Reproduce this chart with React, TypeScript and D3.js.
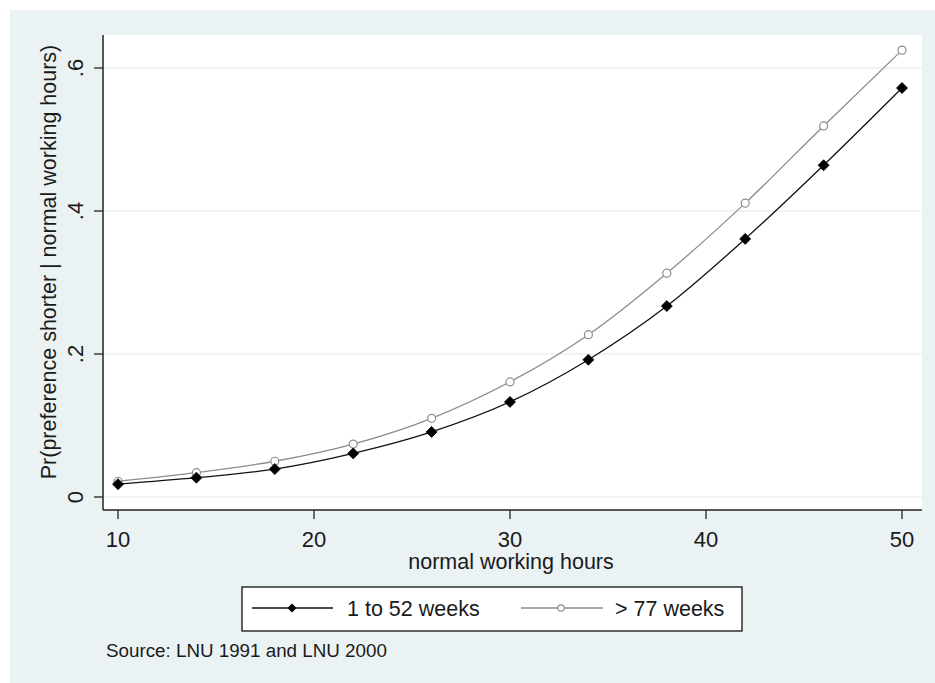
import React from 'react';
import * as d3 from 'd3';

// hours on the x axis
const hours = [10, 14, 18, 22, 26, 30, 34, 38, 42, 46, 50];
// predicted probabilities
const shortSpell = [0.018, 0.027, 0.039, 0.061, 0.091, 0.133, 0.192, 0.267, 0.361, 0.464, 0.572];
const longSpell = [0.022, 0.034, 0.050, 0.074, 0.110, 0.161, 0.227, 0.313, 0.411, 0.519, 0.625];
const xTicks = [10, 20, 30, 40, 50];
const yTicks = [0, 0.2, 0.4, 0.6];
const yTickLabels = ['0', '.2', '.4', '.6'];
const seriesNames = ['1 to 52 weeks', '> 77 weeks'];

const W = 935;
const H = 683;
const bg = '#eaf2f3';
const ink = '#1a1a1a';
const font = '"Liberation Sans", Arial, sans-serif';

export default function App() {
  const plot = { left: 103, right: 922, top: 35, bottom: 510 };

  const x = d3.scaleLinear().domain([10, 50]).range([118, 902]);
  const y = d3.scaleLinear().domain([0, 0.6]).range([497, 68]);

  const line = d3
    .line<number>()
    .x((_, i) => x(hours[i]))
    .y((d) => y(d))
    .curve(d3.curveMonotoneX);

  const diamond = (cx: number, cy: number, r: number) =>
    `M${cx},${cy - r}L${cx + r},${cy}L${cx},${cy + r}L${cx - r},${cy}Z`;

  return (
    <svg width={W} height={H} style={{ position: 'absolute', left: 0, top: 0, fontFamily: font }}>
      <rect x={0} y={0} width={W} height={H} fill="#ffffff" />
      <rect x={10} y={10} width={W - 10} height={H - 10} fill={bg} />
      <rect
        x={plot.left}
        y={plot.top}
        width={plot.right - plot.left}
        height={plot.bottom - plot.top}
        fill="#ffffff"
      />

      {/* grid lines */}
      {yTicks.map((t) => (
        <line key={'g' + t} x1={plot.left} x2={plot.right} y1={y(t)} y2={y(t)} stroke={bg} strokeWidth={1.5} />
      ))}

      {/* series */}
      <path d={line(longSpell) || ''} fill="none" stroke="#8c8c8c" strokeWidth={1.3} />
      <path d={line(shortSpell) || ''} fill="none" stroke="#111" strokeWidth={1.3} />
      {longSpell.map((v, i) => (
        <circle key={'l' + i} cx={x(hours[i])} cy={y(v)} r={4} fill="#fff" stroke="#8c8c8c" strokeWidth={1.2} />
      ))}
      {shortSpell.map((v, i) => (
        <path key={'s' + i} d={diamond(x(hours[i]), y(v), 5.5)} fill="#000" stroke="#000" strokeWidth={0.8} strokeLinejoin="round" />
      ))}

      {/* axes */}
      <line x1={plot.left} x2={plot.left} y1={plot.top} y2={plot.bottom} stroke="#222" strokeWidth={1.5} />
      <line x1={plot.left} x2={plot.right} y1={plot.bottom} y2={plot.bottom} stroke="#222" strokeWidth={1.5} />
      {yTicks.map((t, i) => (
        <g key={'y' + t}>
          <line x1={plot.left - 9} x2={plot.left} y1={y(t)} y2={y(t)} stroke="#222" strokeWidth={1.3} />
          <text
            transform={`translate(${plot.left - 20},${y(t)}) rotate(-90)`}
            textAnchor="middle"
            fontSize={22}
            fill={ink}
          >
            {yTickLabels[i]}
          </text>
        </g>
      ))}
      {xTicks.map((t) => (
        <g key={'x' + t}>
          <line x1={x(t)} x2={x(t)} y1={plot.bottom} y2={plot.bottom + 9} stroke="#222" strokeWidth={1.3} />
          <text x={x(t)} y={547} textAnchor="middle" fontSize={22} fill={ink}>
            {t}
          </text>
        </g>
      ))}

      {/* axis titles */}
      <text x={511} y={569} textAnchor="middle" fontSize={21.5} fill={ink}>
        normal working hours
      </text>
      <text
        transform={`translate(56,262) rotate(-90)`}
        textAnchor="middle"
        fontSize={21.5}
        fill={ink}
      >
        Pr(preference shorter | normal working hours)
      </text>

      {/* legend */}
      <rect x={242} y={587} width={500} height={44} fill="#fff" stroke="#111" strokeWidth={1.3} />
      <line x1={252} x2={333} y1={608} y2={608} stroke="#111" strokeWidth={1.3} />
      <path d={diamond(292, 608, 4.5)} fill="#000" />
      <text x={347} y={616} fontSize={21.5} fill={ink}>
        {seriesNames[0]}
      </text>
      <line x1={521} x2={603} y1={608} y2={608} stroke="#8c8c8c" strokeWidth={1.3} />
      <circle cx={561} cy={608} r={3.2} fill="#fff" stroke="#8c8c8c" strokeWidth={1.2} />
      <text x={615} y={616} fontSize={21.5} fill={ink}>
        {seriesNames[1]}
      </text>

      <text x={106} y={657} fontSize={18.8} fill={ink}>
        Source: LNU 1991 and LNU 2000
      </text>
    </svg>
  );
}
